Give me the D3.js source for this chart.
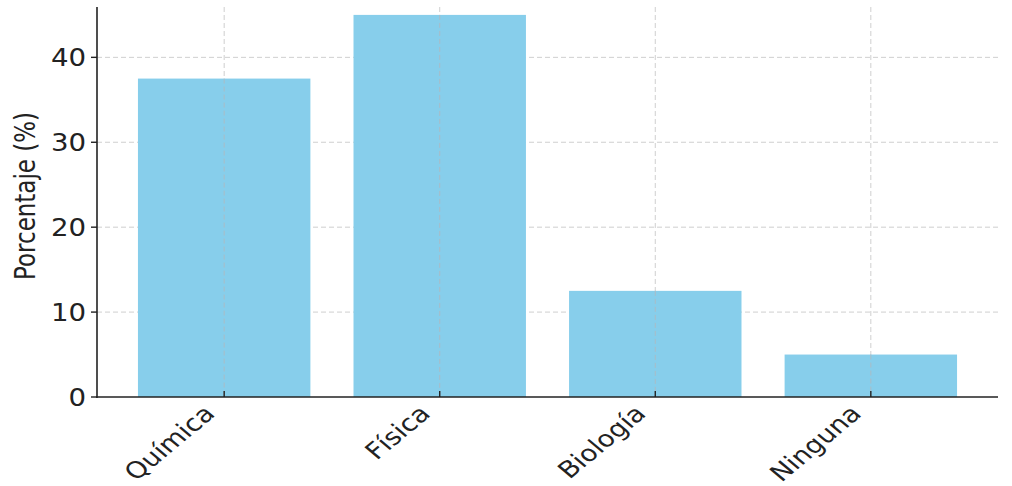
<!DOCTYPE html>
<html>
<head>
<meta charset="utf-8">
<script src="https://cdn.jsdelivr.net/npm/d3@7"></script>
<style>
  body { margin: 0; background: #fff; }
  text { font-family: 'DejaVu Sans', sans-serif; fill: #222; }
</style>
</head>
<body>
<script>
const categories = ['Química', 'Física', 'Biología', 'Ninguna']
const values = [37.5, 45, 12.5, 5]
const yTicks = [0, 10, 20, 30, 40]

const width = 1012
const height = 486
const plotLeft = 97
const plotRight = 998
const plotTop = 7
const plotBottom = 397
// the picture looks stretched sideways, so text gets a small x scale
const sx = 1.2

const svg = d3.select('body')
  .append('svg')
  .attr('width', width)
  .attr('height', height)

// matplotlib style: bars 0.8 wide, 5% margin either side
const margin = 0.59
const step = (plotRight - plotLeft) / (categories.length - 1 + 2 * margin)
const x = d3.scalePoint()
  .domain(categories)
  .range([plotLeft + margin * step, plotRight - margin * step])
const barWidth = step * 0.8

const y = d3.scaleLinear()
  .domain([0, 45.93])
  .range([plotBottom, plotTop])

// grid
svg.append('g')
  .selectAll('line')
  .data(yTicks.slice(1))
  .enter()
  .append('line')
  .attr('x1', plotLeft)
  .attr('x2', plotRight)
  .attr('y1', d => y(d))
  .attr('y2', d => y(d))
  .attr('stroke', '#cfcfcf')
  .attr('stroke-width', 1)
  .attr('stroke-dasharray', '5,3')

svg.append('g')
  .selectAll('line')
  .data(categories)
  .enter()
  .append('line')
  .attr('x1', d => x(d))
  .attr('x2', d => x(d))
  .attr('y1', plotTop)
  .attr('y2', plotBottom)
  .attr('stroke', '#cfcfcf')
  .attr('stroke-width', 1)
  .attr('stroke-dasharray', '5,3')

// bars
svg.append('g')
  .selectAll('rect')
  .data(values)
  .enter()
  .append('rect')
  .attr('x', (d, i) => x(categories[i]) - barWidth / 2)
  .attr('y', d => y(d))
  .attr('width', barWidth)
  .attr('height', d => plotBottom - y(d))
  .attr('fill', '#87CEEB')

// grid lines show faintly through the bars
svg.append('g')
  .selectAll('line')
  .data(categories)
  .enter()
  .append('line')
  .attr('x1', d => x(d))
  .attr('x2', d => x(d))
  .attr('y1', (d, i) => y(values[i]))
  .attr('y2', plotBottom)
  .attr('stroke', '#a9bcc6')
  .attr('stroke-width', 1)
  .attr('stroke-dasharray', '5,3')

// y axis
const yAxis = svg.append('g')
yAxis.append('line')
  .attr('x1', plotLeft).attr('x2', plotLeft)
  .attr('y1', plotTop).attr('y2', plotBottom + 1)
  .attr('stroke', '#222').attr('stroke-width', 1.6)

const yt = yAxis.selectAll('g.tick')
  .data(yTicks)
  .enter()
  .append('g')
  .attr('class', 'tick')
  .attr('transform', d => `translate(0,${y(d)})`)
yt.append('line')
  .attr('x1', plotLeft - 6).attr('x2', plotLeft)
  .attr('stroke', '#222').attr('stroke-width', 1.4)
yt.append('text')
  .attr('transform', `translate(${plotLeft - 11},0) scale(1.15,1)`)
  .attr('text-anchor', 'end')
  .attr('dy', '0.36em')
  .attr('font-size', '24px')
  .text(d => d)

svg.append('text')
  .attr('transform', `translate(35,${(plotTop + plotBottom) / 2 - 6}) scale(${sx},1) rotate(-90)`)
  .attr('text-anchor', 'middle')
  .attr('font-size', '23px')
  .text('Porcentaje (%)')

// x axis
const xAxis = svg.append('g')
xAxis.append('line')
  .attr('x1', plotLeft - 0.8).attr('x2', plotRight)
  .attr('y1', plotBottom).attr('y2', plotBottom)
  .attr('stroke', '#222').attr('stroke-width', 1.6)

const xt = xAxis.selectAll('g.tick')
  .data(categories)
  .enter()
  .append('g')
  .attr('class', 'tick')
  .attr('transform', d => `translate(${x(d)},${plotBottom})`)
xt.append('line')
  .attr('y1', -6).attr('y2', 0)
  .attr('stroke', '#222').attr('stroke-width', 1.4)
xt.append('text')
  .attr('transform', `translate(-8,18) scale(${sx},1) rotate(-45)`)
  .attr('text-anchor', 'end')
  .attr('font-size', '23px')
  .text(d => d)
</script>
</body>
</html>
